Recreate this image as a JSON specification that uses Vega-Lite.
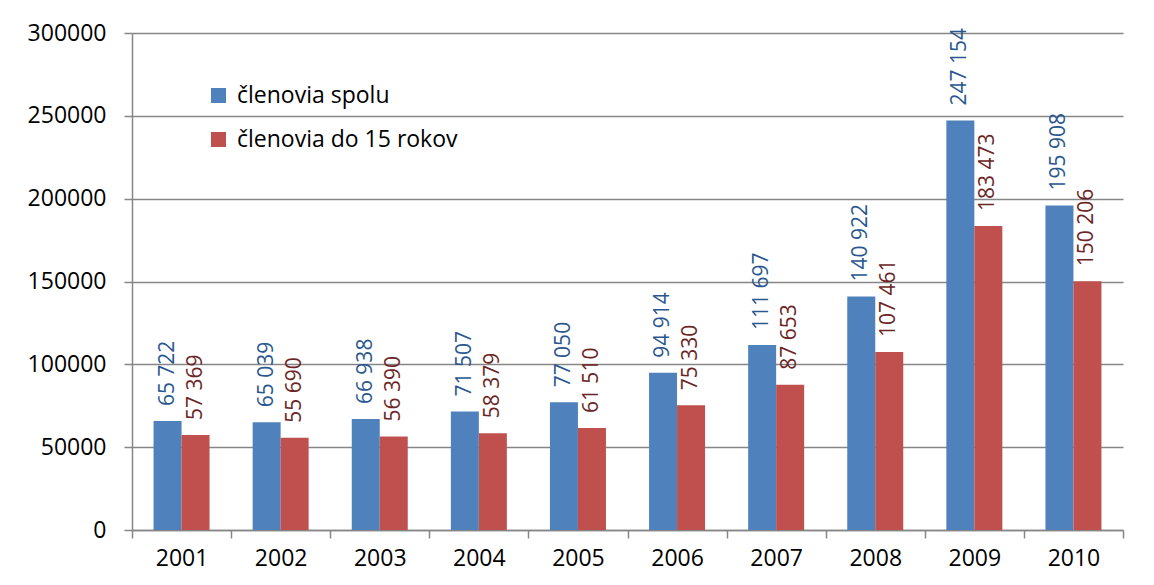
{
  "$schema": "https://vega.github.io/schema/vega-lite/v6.json",
  "width": 991,
  "height": 497,
  "autosize": {"type": "none"},
  "padding": {"left": 132, "top": 33, "right": 31, "bottom": 55},
  "background": "white",
  "config": {
    "font": "Open Sans",
    "view": {"stroke": null},
    "locale": {"number": {"decimal": ",", "thousands": " ", "grouping": [3], "currency": ["", ""]}}
  },
  "data": {
    "values": [
      {"rok": "2001", "skupina": "členovia spolu", "pocet": 65722},
      {"rok": "2001", "skupina": "členovia do 15 rokov", "pocet": 57369},
      {"rok": "2002", "skupina": "členovia spolu", "pocet": 65039},
      {"rok": "2002", "skupina": "členovia do 15 rokov", "pocet": 55690},
      {"rok": "2003", "skupina": "členovia spolu", "pocet": 66938},
      {"rok": "2003", "skupina": "členovia do 15 rokov", "pocet": 56390},
      {"rok": "2004", "skupina": "členovia spolu", "pocet": 71507},
      {"rok": "2004", "skupina": "členovia do 15 rokov", "pocet": 58379},
      {"rok": "2005", "skupina": "členovia spolu", "pocet": 77050},
      {"rok": "2005", "skupina": "členovia do 15 rokov", "pocet": 61510},
      {"rok": "2006", "skupina": "členovia spolu", "pocet": 94914},
      {"rok": "2006", "skupina": "členovia do 15 rokov", "pocet": 75330},
      {"rok": "2007", "skupina": "členovia spolu", "pocet": 111697},
      {"rok": "2007", "skupina": "členovia do 15 rokov", "pocet": 87653},
      {"rok": "2008", "skupina": "členovia spolu", "pocet": 140922},
      {"rok": "2008", "skupina": "členovia do 15 rokov", "pocet": 107461},
      {"rok": "2009", "skupina": "členovia spolu", "pocet": 247154},
      {"rok": "2009", "skupina": "členovia do 15 rokov", "pocet": 183473},
      {"rok": "2010", "skupina": "členovia spolu", "pocet": 195908},
      {"rok": "2010", "skupina": "členovia do 15 rokov", "pocet": 150206}
    ]
  },
  "encoding": {
    "x": {
      "field": "rok", "type": "nominal", "title": null,
      "scale": {"paddingInner": 0, "paddingOuter": 0},
      "axis": {
        "labelAngle": 0, "labelFontSize": 23, "labelColor": "#000000", "labelPadding": 9,
        "tickBand": "extent", "tickSize": 8, "tickColor": "#868686", "tickWidth": 1.5,
        "domainColor": "#868686", "domainWidth": 1.5
      }
    },
    "xOffset": {
      "field": "skupina", "type": "nominal",
      "scale": {"domain": ["členovia spolu", "členovia do 15 rokov"], "paddingInner": 0, "paddingOuter": 0.77}
    },
    "y": {
      "field": "pocet", "type": "quantitative", "title": null,
      "scale": {"domain": [0, 300000], "nice": false},
      "axis": {
        "values": [0, 50000, 100000, 150000, 200000, 250000, 300000],
        "format": "d", "labelFontSize": 23, "labelColor": "#000000", "labelPadding": 18,
        "tickSize": 8, "tickColor": "#868686", "tickWidth": 1.5,
        "domainColor": "#868686", "domainWidth": 1.5,
        "grid": true, "gridColor": "#868686", "gridWidth": 1.5
      }
    }
  },
  "layer": [
    {
      "mark": {"type": "bar"},
      "encoding": {
        "color": {
          "field": "skupina", "type": "nominal", "title": null,
          "scale": {"domain": ["členovia spolu", "členovia do 15 rokov"], "range": ["#4F81BD", "#C0504D"]},
          "legend": {
            "orient": "none", "legendX": 75, "legendY": 51,
            "symbolType": "square", "symbolSize": 225, "symbolStrokeWidth": 0,
            "labelFontSize": 23, "labelColor": "#000000", "rowPadding": 20, "labelOffset": 7,
            "labelLimit": 400
          }
        }
      }
    },
    {
      "mark": {"type": "text", "angle": 270, "align": "left", "baseline": "middle", "dx": 15, "fontSize": 21},
      "encoding": {
        "text": {"field": "pocet", "type": "quantitative", "format": ",d"},
        "color": {
          "condition": {"test": "datum.skupina === 'členovia spolu'", "value": "#2A578F"},
          "value": "#6B2524"
        }
      }
    }
  ]
}
